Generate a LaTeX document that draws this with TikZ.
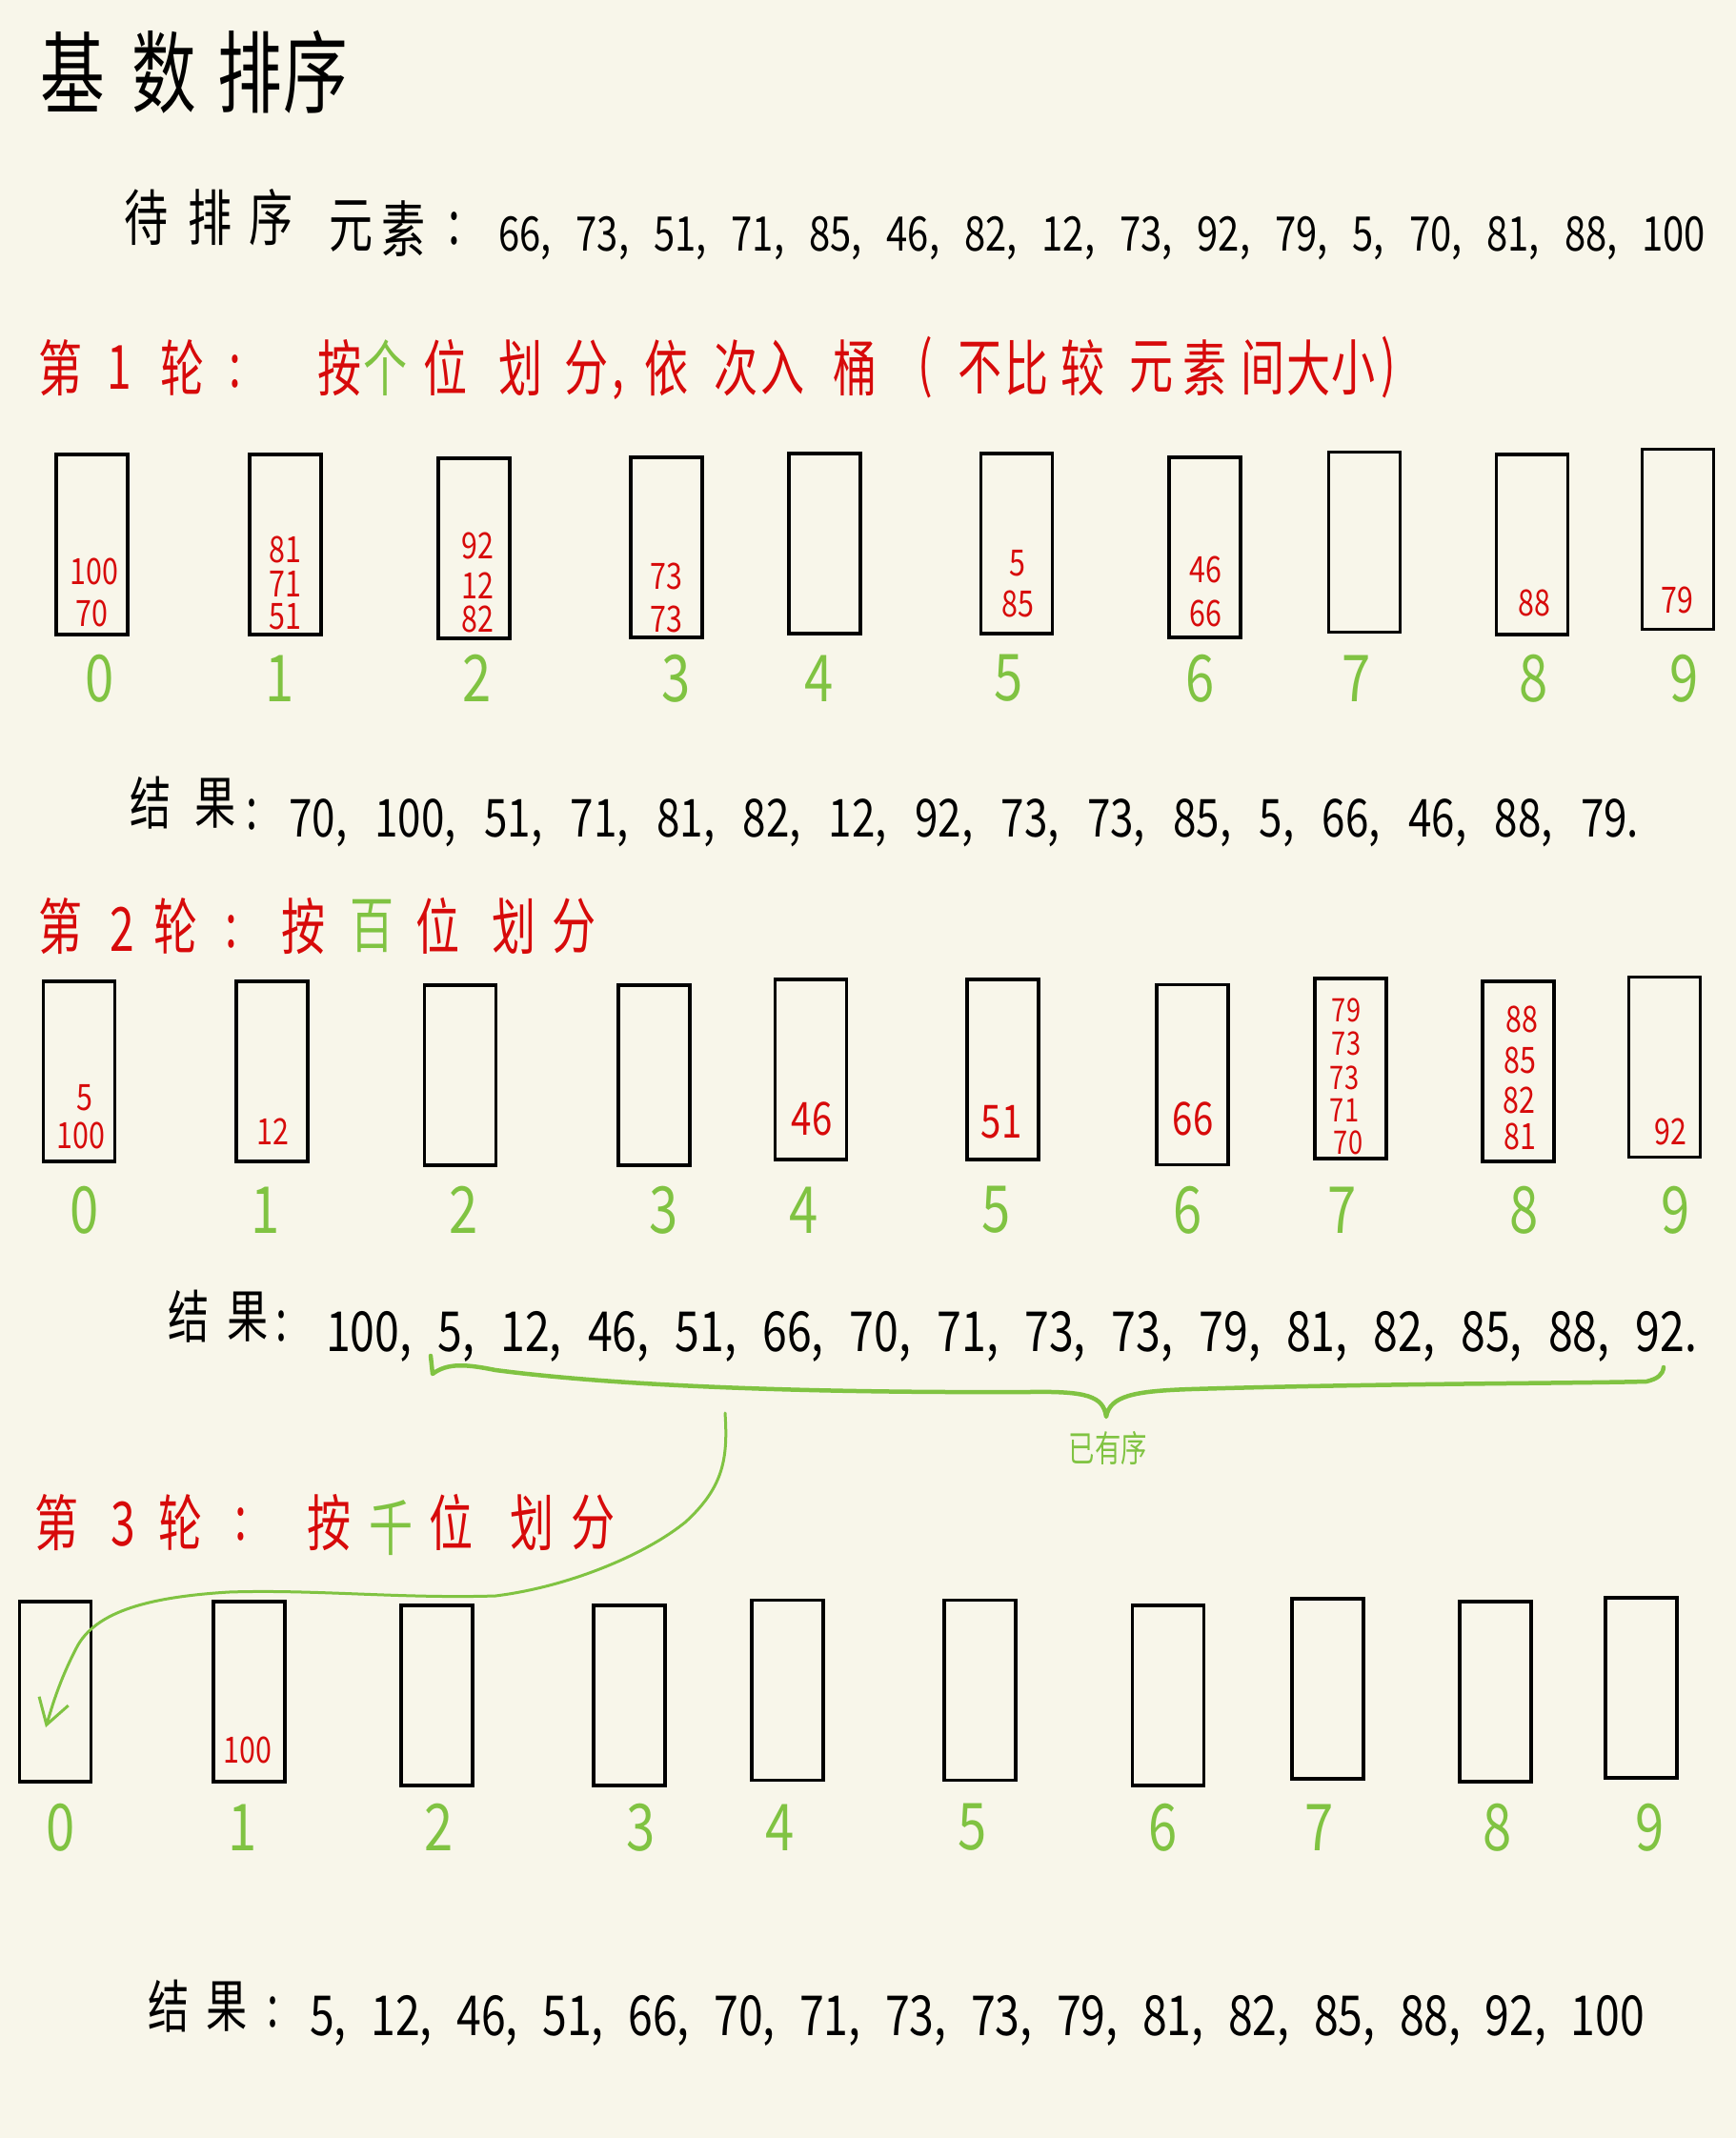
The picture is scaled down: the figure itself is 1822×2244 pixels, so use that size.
\documentclass[tikz,border=0pt]{standalone}
\usepackage{fontspec}
\setmainfont[FakeStretch=0.8]{Noto Sans CJK SC}
\newfontfamily\narrowcjk[FakeStretch=0.72]{Noto Sans CJK SC}
\usetikzlibrary{arrows.meta}
\definecolor{bgc}{HTML}{F8F6EA}
\definecolor{hred}{HTML}{D70A0A}
\definecolor{hgreen}{HTML}{80C342}
\tikzset{
  bucket/.style={draw=black, line width=3.6pt, minimum width=75pt, minimum height=189pt, inner sep=0pt},
  lbl/.style={text=hgreen, font=\fontsize{68}{68}\selectfont, inner sep=0pt},
  num/.style={text=hred, font=\fontsize{38}{38}\selectfont, inner sep=0pt},
  smallnum/.style={text=hred, font=\fontsize{34}{34}\selectfont, inner sep=0pt},
  bignum/.style={text=hred, font=\fontsize{48}{48}\selectfont, inner sep=0pt},
  title/.style={text=black, font=\narrowcjk\fontsize{94}{94}\selectfont, inner sep=0pt},
  head/.style={font=\narrowcjk\fontsize{64}{64}\selectfont, inner sep=0pt},
  plain/.style={text=black, font=\narrowcjk\fontsize{64}{64}\selectfont, inner sep=0pt},
  res/.style={text=black, font=\narrowcjk\fontsize{60}{60}\selectfont, inner sep=0pt},
  numline/.style={text=black, inner sep=0pt, anchor=base west},
  gline/.style={draw=hgreen, line cap=round, line join=round},
}
\begin{document}
\begin{tikzpicture}[x=1pt,y=-1pt]
\fill[bgc] (0,0) rectangle (1822,2244);
\useasboundingbox (0,0) rectangle (1822,2244);

% title
\foreach \c/\x [count=\k] in {基/76, 数/172, 排/262, 序/331}
  \node[title] (t\k) at (\x,76) {\c};

% elements line
\foreach \c/\x/\y [count=\k] in {待/154/228, 排/221/228, 序/285/228, 元/369/238, 素/424/240, :/477/240}
  \node[plain] (e\k) at (\x,\y) {\c};
\node[numline, font=\fontsize{50}{50}\selectfont] (enums) at (523,263)
  {\makebox[1267pt][s]{66, 73, 51, 71, 85, 46, 82, 12, 73, 92, 79, 5, 70, 81, 88, 100}};

% heading 1
\foreach \c/\x/\y/\col [count=\k] in {第/64/386/hred, 1/125/386/hred, 轮/192/386/hred, :/247/390/hred,
   按/357/386/hred, 个/405/386/hgreen, 位/468/386/hred, 划/547/386/hred, 分/616/386/hred, {,}/649/410/hred,
   依/700/386/hred, 次/773/386/hred, 入/822/386/hred, 桶/898/386/hred, {(}/971/386/hred,
   不/1029/386/hred, 比/1078/386/hred, 较/1137/386/hred, 元/1209/386/hred, 素/1265/386/hred,
   间/1326/386/hred, 大/1374/386/hred, 小/1421/386/hred, {)}/1457/386/hred}
  \node[head, text=\col] (ha\k) at (\x,\y) {\c};

% row 1 buckets
\foreach \i/\x/\y in {0/96.5/571.5, 1/299.5/571.5, 2/497.5/575.5, 3/699.5/574.5, 4/865.5/570.5,
   5/1067/570.5, 6/1264.5/574.5, 7/1432/569, 8/1608/571.5, 9/1761/566}
  \node[bucket] (ra\i) at (\x,\y) {};
\foreach \i/\x in {0/105, 1/294, 2/501, 3/710, 4/860, 5/1059, 6/1260, 7/1424, 8/1610, 9/1768}
  \node[lbl] (la\i) at (\x,712) {\i};
\foreach \n/\x/\y [count=\k] in {100/99/600, 70/96/644, 81/299/577, 71/299/613, 51/299/647,
   92/501/573, 12/501/615, 82/501/650, 73/699/605, 73/699/650, 5/1068/591, 85/1068/634,
   46/1265/598, 66/1265/644, 88/1610/633, 79/1760/630}
  \node[num] (na\k) at (\x,\y) {\n};

% result 1
\foreach \c/\x/\y [count=\k] in {结/158/843, 果/226/843, :/265/855}
  \node[res] (sa\k) at (\x,\y) {\c};
\node[numline, font=\fontsize{55}{55}\selectfont] (anums) at (303,878)
  {\makebox[1417pt][s]{70, 100, 51, 71, 81, 82, 12, 92, 73, 73, 85, 5, 66, 46, 88, 79.}};

% heading 2
\foreach \c/\x/\y/\col [count=\k] in {第/64/972/hred, 2/128/975/hred, 轮/185/972/hred, :/243/978/hred,
   按/319/972/hred, 百/391/972/hgreen, 位/460/972/hred, 划/540/972/hred, 分/603/972/hred}
  \node[head, text=\col] (hb\k) at (\x,\y) {\c};

% row 2 buckets
\foreach \i/\x/\y in {0/83/1124.5, 1/285.5/1124.5, 2/483/1128.5, 3/686.5/1128.5, 4/851/1122.5,
   5/1052.5/1122.5, 6/1251.5/1128, 7/1417.5/1121.5, 8/1593.5/1124.5, 9/1747/1120}
  \node[bucket] (rb\i) at (\x,\y) {};
\foreach \i/\x in {0/89, 1/279, 2/487, 3/697, 4/844, 5/1046, 6/1247, 7/1409, 8/1600, 9/1759}
  \node[lbl] (lb\i) at (\x,1270) {\i};
\foreach \n/\x/\y [count=\k] in {5/89/1152, 100/85/1192, 12/286/1188, 88/1597/1070, 85/1595/1113,
   82/1594/1155, 81/1595/1193, 92/1753/1188}
  \node[num] (nb\k) at (\x,\y) {\n};
\foreach \n/\x/\y [count=\k] in {79/1413/1060, 73/1413/1095, 73/1411/1131, 71/1411/1165, 70/1415/1199}
  \node[smallnum] (ns\k) at (\x,\y) {\n};
\foreach \n/\x/\y [count=\k] in {46/852/1174, 51/1051/1178, 66/1252/1174}
  \node[bignum] (mb\k) at (\x,\y) {\n};

% result 2
\foreach \c/\x/\y [count=\k] in {结/198/1382, 果/260/1382, :/296/1392}
  \node[res] (sb\k) at (\x,\y) {\c};
\node[numline, font=\fontsize{58}{58}\selectfont] (bnums) at (342,1418)
  {\makebox[1439pt][s]{100, 5, 12, 46, 51, 66, 70, 71, 73, 73, 79, 81, 82, 85, 88, 92.}};

% brace
\coordinate (braceL) at (452,1423);
\coordinate (braceTip) at (1161,1487);
\coordinate (braceR) at (1746,1435);
\draw[gline, line width=4.5pt] (braceL) -- (454,1442)
  .. controls (470,1430) and (490,1432) .. (520,1438)
  .. controls (650,1455) and (850,1462) .. (1080,1461)
  .. controls (1140,1460) and (1158,1465) .. (braceTip)
  .. controls (1165,1465) and (1190,1460) .. (1250,1458)
  .. controls (1450,1452) and (1650,1452) .. (1728,1450)
  .. controls (1740,1447) and (1745,1443) .. (braceR);
\node[text=hgreen, font=\narrowcjk\fontsize{38}{38}\selectfont, inner sep=0pt] (sorted) at (1163,1520) {已有序};

% heading 3
\foreach \c/\x/\y/\col [count=\k] in {第/60/1598/hred, 3/129/1600/hred, 轮/190/1598/hred, :/253/1600/hred,
   按/346/1598/hred, 千/411/1604/hgreen, 位/474/1598/hred, 划/559/1598/hred, 分/623/1598/hred}
  \node[head, text=\col] (hc\k) at (\x,\y) {\c};

% row 3 buckets
\foreach \i/\x/\y in {0/58/1775.5, 1/261.5/1775.5, 2/458.5/1779.5, 3/660.5/1779.5, 4/826.5/1774,
   5/1028.5/1774, 6/1226/1779.5, 7/1393.5/1772.5, 8/1569.5/1775.5, 9/1722.5/1771.5}
  \node[bucket] (rc\i) at (\x,\y) {};
\foreach \i/\x in {0/64, 1/255, 2/461, 3/673, 4/819, 5/1021, 6/1221, 7/1385, 8/1572, 9/1732}
  \node[lbl] (lc\i) at (\x,1918) {\i};
\node[num] (nc1) at (260,1837) {100};

% arrow from sorted part into bucket 0
\coordinate (arrStart) at (761,1483);
\coordinate (arrEnd) at (48,1813);
\draw[gline, line width=3pt, -{Straight Barb[length=26pt,width=32pt,line width=3pt]}] (arrStart)
  .. controls (764,1530) and (760,1560) .. (720,1597)
  .. controls (680,1630) and (600,1665) .. (520,1675)
  .. controls (420,1678) and (330,1668) .. (240,1671)
  .. controls (160,1676) and (100,1690) .. (80,1730)
  .. controls (62,1765) and (55,1790) .. (arrEnd);

% result 3
\foreach \c/\x/\y [count=\k] in {结/177/2106, 果/238/2106, :/287/2112}
  \node[res] (sc\k) at (\x,\y) {\c};
\node[numline, font=\fontsize{58}{58}\selectfont] (cnums) at (325,2136)
  {\makebox[1401pt][s]{5, 12, 46, 51, 66, 70, 71, 73, 73, 79, 81, 82, 85, 88, 92, 100}};
\end{tikzpicture}
\end{document}
